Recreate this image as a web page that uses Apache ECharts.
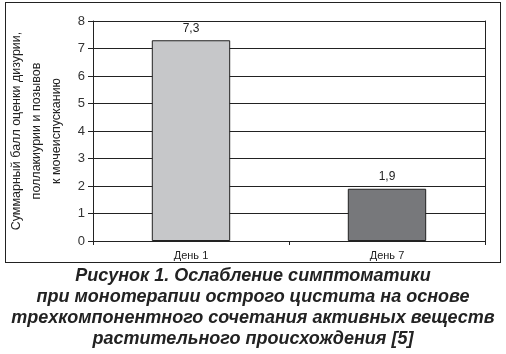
<!DOCTYPE html>
<html lang="ru">
<head>
  <meta charset="UTF-8">
  <title>Рисунок 1</title>
  <style>
    body { margin: 0; padding: 0; background: #fff; }
    .wrap { position: relative; width: 506px; height: 354px; }
    #chart { width: 506px; height: 354px; }
    /* рамка вокруг области графика */
    .frame {
      position: absolute; left: 5px; top: 2px; width: 494px; height: 259px;
      border: 1.5px solid #222; pointer-events: none;
    }
  </style>
</head>
<body>
  <div class="wrap">
    <div id="chart"></div>
    <div class="frame"></div>
  </div>
  <script src="https://cdn.jsdelivr.net/npm/echarts@6/dist/echarts.min.js"></script>
  <script>
    var categories = ['День 1', 'День 7'];
    var values = [7.3, 1.9];
    var barColors = ['#c6c7c9', '#77787b'];
    var yTitle = 'Суммарный балл оценки дизурии,\nполлакиурии и позывов\nк мочеиспусканию';
    var caption = 'Рисунок 1. Ослабление симптоматики\nпри монотерапии острого цистита на основе\nтрехкомпонентного сочетания активных веществ\nрастительного происхождения [5]';

    var chart = echarts.init(document.getElementById('chart'));

    var option = {
      animation: false,
      grid: { left: 93, right: 21, top: 21, bottom: 113, outerBoundsMode: 'none' },
      title: {
        text: caption,
        left: 'center',
        top: 261,
        textStyle: {
          fontFamily: 'Liberation Sans',
          fontSize: 18,
          fontWeight: 'bold',
          fontStyle: 'italic',
          color: '#222',
          lineHeight: 21
        }
      },
      xAxis: {
        type: 'category',
        data: categories,
        axisLine: { lineStyle: { color: '#222', width: 1 } },
        axisTick: { show: true, length: 4, lineStyle: { color: '#222', width: 1 } },
        axisLabel: { color: '#222', fontSize: 11, fontFamily: 'Liberation Sans', margin: 9 }
      },
      yAxis: [{
        type: 'value',
        min: 0, max: 8, interval: 1,
        name: yTitle,
        nameLocation: 'middle',
        nameGap: 20,
        nameTextStyle: { color: '#222', fontSize: 12.5, fontFamily: 'Liberation Sans', lineHeight: 20 },
        axisLine: { show: true, lineStyle: { color: '#222', width: 1 } },
        axisTick: { show: true, length: 5, lineStyle: { color: '#222', width: 1 } },
        axisLabel: { color: '#333', fontSize: 13, fontFamily: 'Liberation Sans', margin: 8 },
        splitLine: { show: true, lineStyle: { color: '#222', width: 1 } }
      }, {
        type: 'value',
        position: 'right',
        min: 0, max: 8, interval: 1,
        axisLine: { show: true, lineStyle: { color: '#222', width: 1 } },
        axisTick: { show: false },
        axisLabel: { show: false },
        splitLine: { show: false }
      }],
      series: [{
        type: 'bar',
        barWidth: '40%',
        data: values.map(function (v, i) {
          return { value: v, itemStyle: { color: barColors[i] } };
        }),
        itemStyle: { borderColor: '#222', borderWidth: 1 },
        label: {
          show: true,
          position: 'top',
          distance: 6,
          color: '#222',
          fontSize: 12,
          fontFamily: 'Liberation Sans',
          formatter: function (p) { return String(p.value).replace('.', ','); }
        }
      }]
    };

    chart.setOption(option);
  </script>
</body>
</html>
